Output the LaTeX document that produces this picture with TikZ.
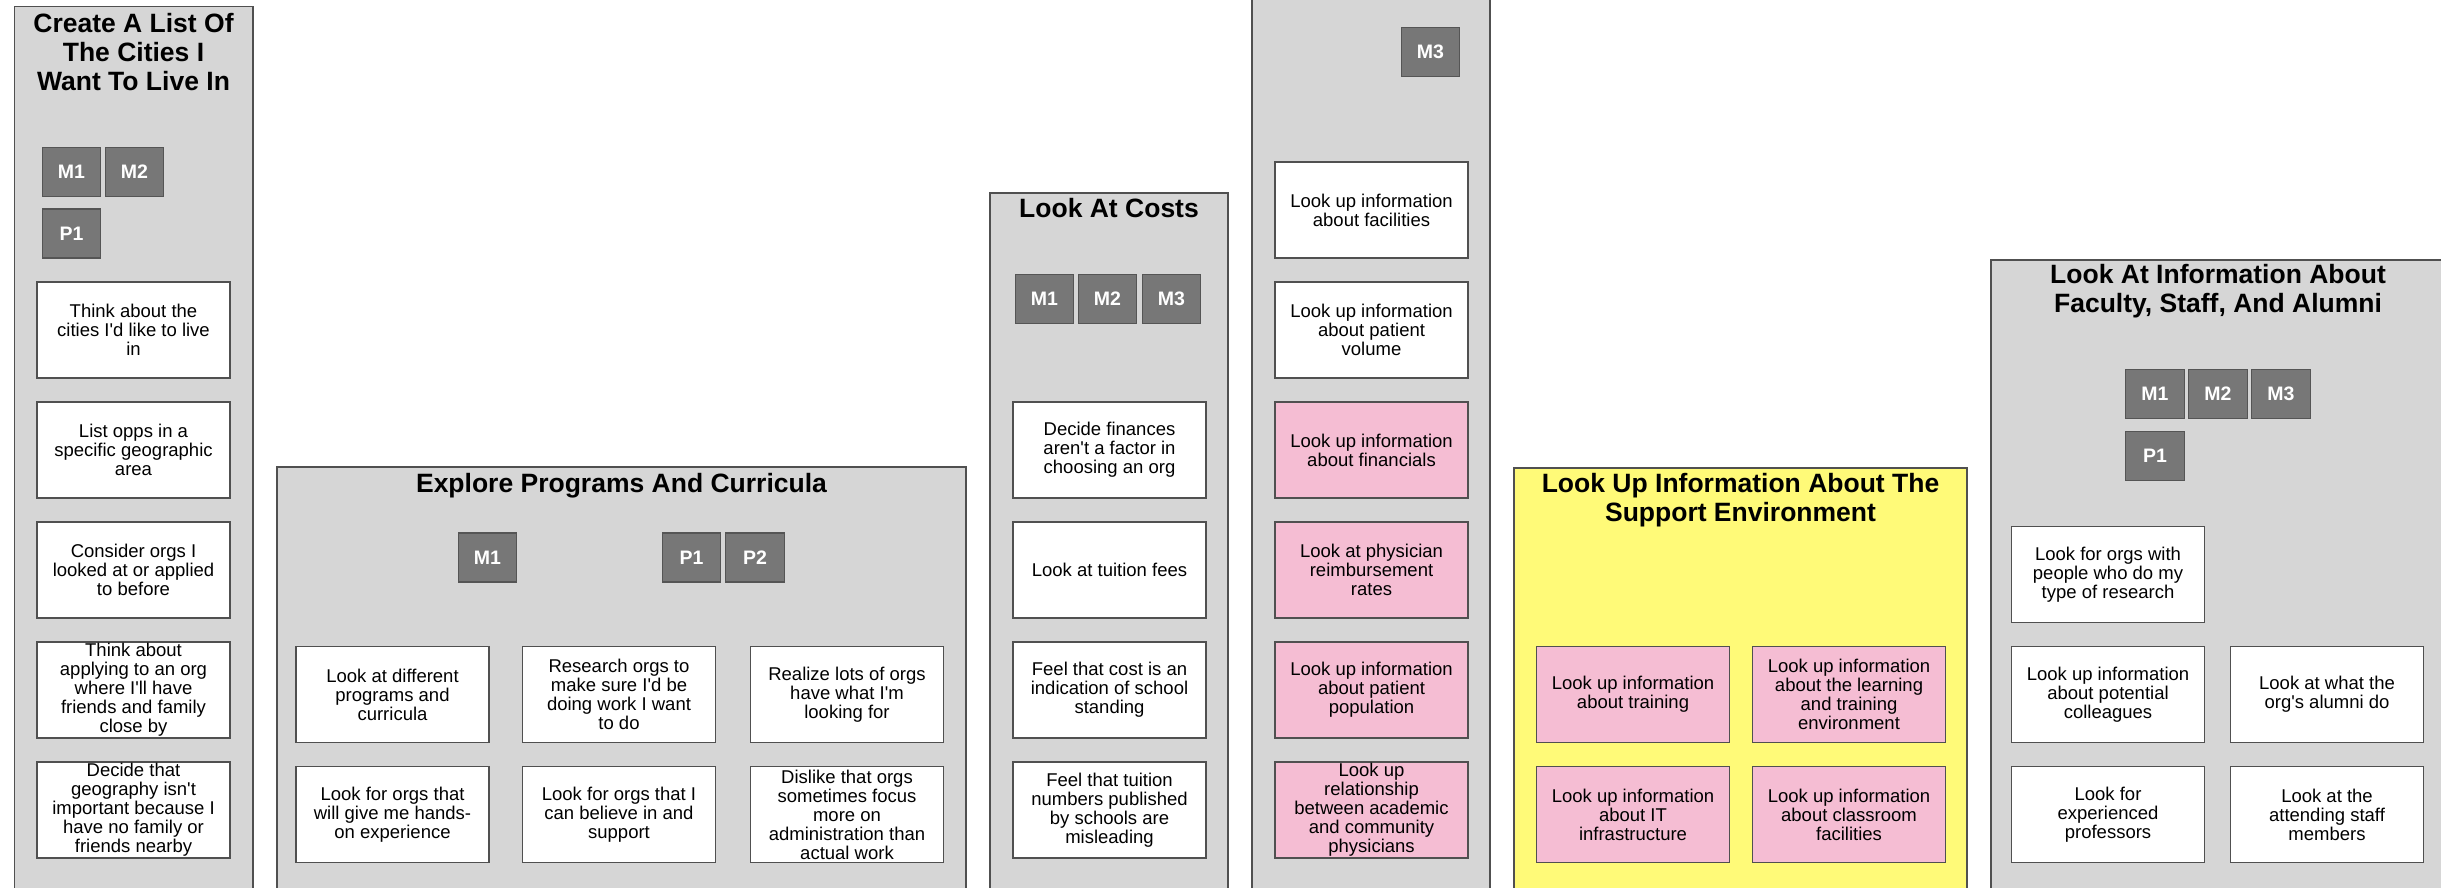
\documentclass[tikz,border=0pt]{standalone}
\usepackage{fontspec}
\newfontfamily\arial{Liberation Sans}
\definecolor{panelgray}{HTML}{D6D6D6}
\definecolor{edgegray}{HTML}{505050}
\definecolor{taggray}{HTML}{777777}
\definecolor{tagedge}{HTML}{555555}
\definecolor{cardpink}{HTML}{F5BDD3}
\definecolor{paneyellow}{HTML}{FFFA78}
\tikzset{
  panel/.style={draw=edgegray, fill=panelgray, line width=1.6pt},
  ypanel/.style={panel, fill=paneyellow},
  ptitle/.style={font={\arial\bfseries\fontsize{26.5}{29}\selectfont}, align=center, inner sep=0pt},
  card/.style={draw=edgegray, fill=white, line width=1.3pt, minimum width=193pt, minimum height=96pt,
    inner sep=0pt, align=center, font={\arial\fontsize{18.5}{19}\selectfont}},
  pcard/.style={card, fill=cardpink},
  tag/.style={draw=tagedge, fill=taggray, line width=1.3pt, minimum width=58.5pt, minimum height=49pt,
    inner sep=0pt, text=white, font={\arial\bfseries\fontsize{19.5}{20}\selectfont}},
}
\begin{document}
\begin{tikzpicture}[x=1pt,y=-1pt]
\useasboundingbox (0,0) rectangle (2441,888);
% ---------- panel 1
\draw[panel] (14.3,6.5) rectangle (252.7,900);
\node[ptitle] (t1) at (133.5,52.5) {Create A List Of\\The Cities I\\Want To Live In};
\node[tag] (a1) at (71.5,172) {M1};
\node[tag] (a2) at (134.5,172) {M2};
\node[tag] (a3) at (71.5,233.5) {P1};
\node[card] (c11) at (133.5,330) {Think about the\\cities I'd like to live\\in};
\node[card] (c12) at (133.5,450) {List opps in a\\specific geographic\\area};
\node[card] (c13) at (133.5,570) {Consider orgs I\\looked at or applied\\to before};
\node[card] (c14) at (133.5,690) {Think about\\applying to an org\\where I'll have\\friends and family\\close by};
\node[card] (c15) at (133.5,810) {Decide that\\geography isn't\\important because I\\have no family or\\friends nearby};
% ---------- panel 2
\draw[panel] (277,467) rectangle (966,900);
\node[ptitle] (t2) at (621.5,485.5) {Explore Programs And Curricula};
\node[tag] (b1) at (487.5,557.5) {M1};
\node[tag] (b2) at (691.5,557.5) {P1};
\node[tag] (b3) at (755,557.5) {P2};
\node[card] (c21) at (392.5,694.5) {Look at different\\programs and\\curricula};
\node[card] (c22) at (619,694.5) {Research orgs to\\make sure I'd be\\doing work I want\\to do};
\node[card] (c23) at (847,694.5) {Realize lots of orgs\\have what I'm\\looking for};
\node[card] (c24) at (392.5,814.5) {Look for orgs that\\will give me hands-\\on experience};
\node[card] (c25) at (619,814.5) {Look for orgs that I\\can believe in and\\support};
\node[card] (c26) at (847,814.5) {Dislike that orgs\\sometimes focus\\more on\\administration than\\actual work};
% ---------- panel 3
\draw[panel] (990,193) rectangle (1228,900);
\node[ptitle] (t3) at (1109,208) {Look At Costs};
\node[tag] (d1) at (1044.5,299) {M1};
\node[tag] (d2) at (1107.5,299) {M2};
\node[tag] (d3) at (1171.5,299) {M3};
\node[card] (c31) at (1109.5,450) {Decide finances\\aren't a factor in\\choosing an org};
\node[card] (c32) at (1109.5,570) {Look at tuition fees};
\node[card] (c33) at (1109.5,690) {Feel that cost is an\\indication of school\\standing};
\node[card] (c34) at (1109.5,810) {Feel that tuition\\numbers published\\by schools are\\misleading};
% ---------- panel 4
\draw[panel] (1252,-10) rectangle (1490,900);
\node[tag] (e1) at (1430.5,52) {M3};
\node[card] (c41) at (1371.5,210) {Look up information\\about facilities};
\node[card] (c42) at (1371.5,330) {Look up information\\about patient\\volume};
\node[pcard] (c43) at (1371.5,450) {Look up information\\about financials};
\node[pcard] (c44) at (1371.5,570) {Look at physician\\reimbursement\\rates};
\node[pcard] (c45) at (1371.5,690) {Look up information\\about patient\\population};
\node[pcard] (c46) at (1371.5,810) {Look up\\relationship\\between academic\\and community\\physicians};
% ---------- panel 5
\draw[ypanel] (1514,468) rectangle (1967,900);
\node[ptitle] (t5) at (1740.5,500.5) {Look Up Information About The\\Support Environment};
\node[pcard] (c51) at (1633,694.5) {Look up information\\about training};
\node[pcard] (c52) at (1849,694.5) {Look up information\\about the learning\\and training\\environment};
\node[pcard] (c53) at (1633,814.5) {Look up information\\about IT\\infrastructure};
\node[pcard] (c54) at (1849,814.5) {Look up information\\about classroom\\facilities};
% ---------- panel 6
\draw[panel] (1991,260) rectangle (2444,900);
\node[ptitle] (t6) at (2218,291.5) {Look At Information About\\Faculty, Staff, And Alumni};
\node[tag] (f1) at (2155,394) {M1};
\node[tag] (f2) at (2218,394) {M2};
\node[tag] (f3) at (2281,394) {M3};
\node[tag] (f4) at (2155,456) {P1};
\node[card] (c61) at (2108,574.5) {Look for orgs with\\people who do my\\type of research};
\node[card] (c62) at (2108,694.5) {Look up information\\about potential\\colleagues};
\node[card] (c63) at (2327,694.5) {Look at what the\\org's alumni do};
\node[card] (c64) at (2108,814.5) {Look for\\experienced\\professors};
\node[card] (c65) at (2327,814.5) {Look at the\\attending staff\\members};
\end{tikzpicture}
\end{document}
